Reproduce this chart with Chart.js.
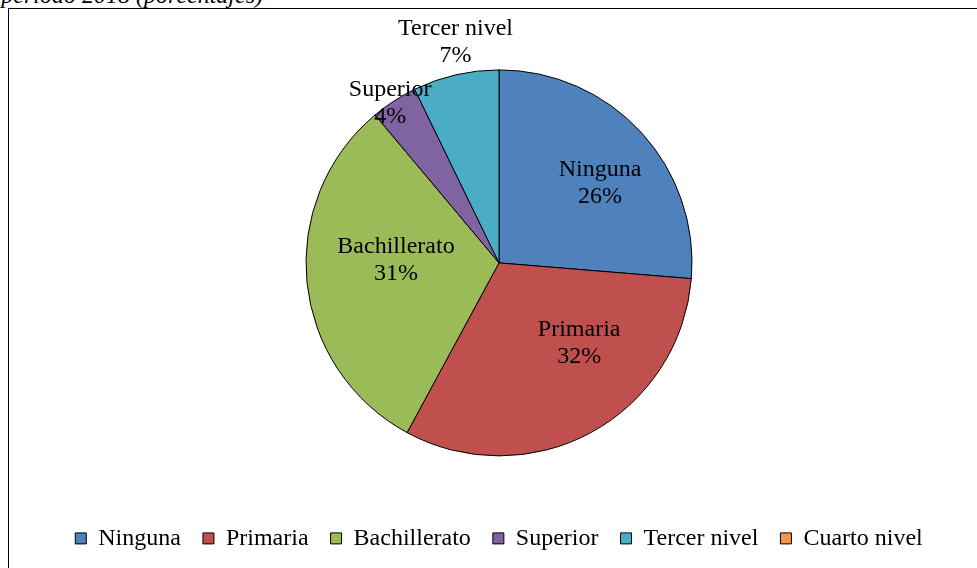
<!DOCTYPE html>
<html>
<head>
<meta charset="utf-8">
<script src="https://cdn.jsdelivr.net/npm/chart.js@4.4.1/dist/chart.umd.min.js"></script>
<style>
  html, body { margin: 0; padding: 0; width: 977px; height: 568px; overflow: hidden; background: #fff; }
  #title {
    position: absolute; right: calc(977px - 263px); top: -17px;
    font: italic 24px "Liberation Serif", "Times New Roman", serif; line-height: 24px;
    white-space: nowrap; color: #000;
  }
  #frame {
    position: absolute; left: 8px; top: 8px; width: 990px; height: 600px;
    border-left: 1.5px solid #000; border-top: 1.5px solid #000;
  }
  #wrap { position: absolute; left: 11px; top: 0; width: 976px; height: 568px; }
</style>
</head>
<body>
<div id="title">Nivel de instrucción, período 2018 (porcentajes)</div>
<div id="frame"></div>
<div id="wrap"><canvas id="pieChart"></canvas></div>
<script>
const categories = ['Ninguna', 'Primaria', 'Bachillerato', 'Superior', 'Tercer nivel', 'Cuarto nivel'];
const values = [26.3, 31.6, 31.0, 3.9, 7.2, 0];
const colors = ['#4F81BD', '#C0504D', '#9BBB59', '#8064A2', '#4BACC6', '#F79646'];

// Excel-style "best fit" labels: category + rounded percent, two lines
const sliceLabels = {
  id: 'sliceLabels',
  afterDatasetsDraw(chart, args, opts) {
    const ctx = chart.ctx;
    const meta = chart.getDatasetMeta(0);
    const total = values.reduce((a, b) => a + b, 0);
    ctx.save();
    ctx.font = opts.font;
    ctx.fillStyle = '#000';
    ctx.textAlign = 'center';
    ctx.textBaseline = 'middle';
    meta.data.forEach((arc, i) => {
      if (!values[i]) return;
      const { x, y, startAngle, endAngle, outerRadius } = arc.getProps(['x', 'y', 'startAngle', 'endAngle', 'outerRadius'], true);
      const mid = (startAngle + endAngle) / 2 + opts.shift[i] * Math.PI / 180;
      const r = outerRadius * opts.dist[i];
      const lx = x + Math.cos(mid) * r;
      const ly = y + Math.sin(mid) * r;
      const pct = Math.round(values[i] / total * 100) + '%';
      ctx.fillText(categories[i], lx, ly - opts.lineGap / 2);
      ctx.fillText(pct, lx, ly + opts.lineGap / 2);
    });
    ctx.restore();
  }
};

new Chart(document.getElementById('pieChart'), {
  type: 'pie',
  data: {
    labels: categories,
    datasets: [{
      data: values,
      backgroundColor: colors,
      borderColor: '#000',
      borderWidth: 1,
      radius: 193
    }]
  },
  options: {
    responsive: true,
    maintainAspectRatio: false,
    animation: false,
    layout: { padding: { top: 21.4, bottom: 7.6, left: 0, right: 0 } },
    plugins: {
      tooltip: { enabled: false },
      legend: {
        position: 'bottom',
        labels: {
          boxWidth: 11,
          boxHeight: 11,
          padding: 22,
          color: '#000',
          font: { family: '"Liberation Serif", "Times New Roman", serif', size: 24 }
        }
      },
      sliceLabels: {
        font: '24px "Liberation Serif", "Times New Roman", serif',
        lineGap: 27,
        dist: [0.668, 0.587, 0.534, 1.0, 1.163, 0],
        shift: [4.3, -16.6, 7.5, -1.4, 1.8, 0]
      }
    }
  },
  plugins: [sliceLabels]
});
</script>
</body>
</html>
